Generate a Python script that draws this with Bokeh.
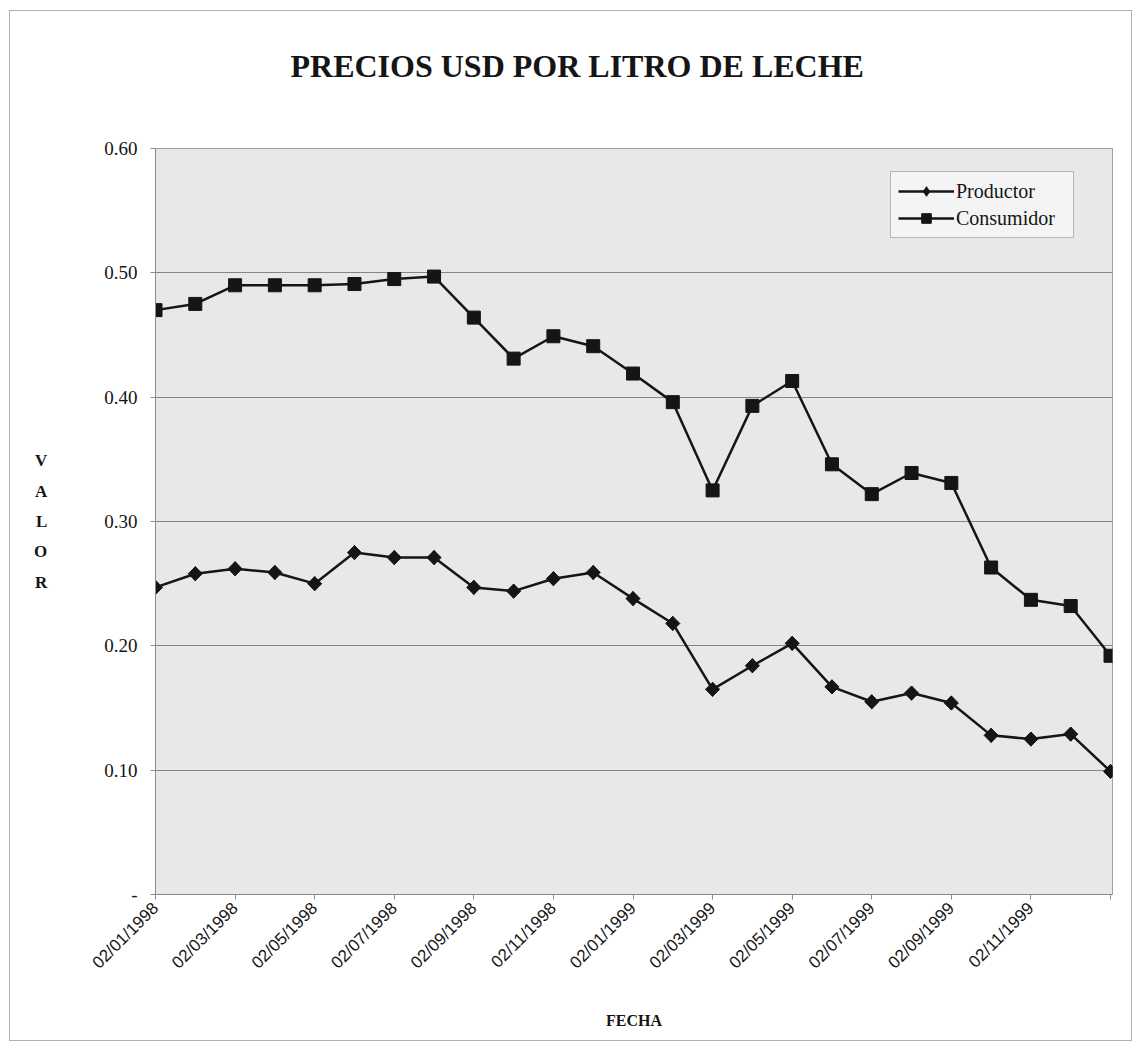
import math
from bokeh.plotting import figure
from bokeh.models import Range1d, FixedTicker, Legend, LegendItem, ColumnDataSource, Title
from bokeh.embed import file_html
from bokeh.resources import INLINE

# ---- data ----
fechas = ["02/01/1998", "02/02/1998", "02/03/1998", "02/04/1998", "02/05/1998",
          "02/06/1998", "02/07/1998", "02/08/1998", "02/09/1998", "02/10/1998",
          "02/11/1998", "02/12/1998", "02/01/1999", "02/02/1999", "02/03/1999",
          "02/04/1999", "02/05/1999", "02/06/1999", "02/07/1999", "02/08/1999",
          "02/09/1999", "02/10/1999", "02/11/1999", "02/12/1999", "02/01/2000"]
productor = [0.247, 0.258, 0.262, 0.259, 0.250, 0.275, 0.271, 0.271, 0.247, 0.244,
             0.254, 0.259, 0.238, 0.218, 0.165, 0.184, 0.202, 0.167, 0.155, 0.162,
             0.154, 0.128, 0.125, 0.129, 0.099]
consumidor = [0.470, 0.475, 0.490, 0.490, 0.490, 0.491, 0.495, 0.497, 0.464, 0.431,
              0.449, 0.441, 0.419, 0.396, 0.325, 0.393, 0.413, 0.346, 0.322, 0.339,
              0.331, 0.263, 0.237, 0.232, 0.192]
tick_labels = ["02/01/1998", "02/03/1998", "02/05/1998", "02/07/1998", "02/09/1998",
               "02/11/1998", "02/01/1999", "02/03/1999", "02/05/1999", "02/07/1999",
               "02/09/1999", "02/11/1999", ""]
y_ticks = [0.0, 0.1, 0.2, 0.3, 0.4, 0.5, 0.6]
y_tick_labels = ["-", "0.10", "0.20", "0.30", "0.40", "0.50", "0.60"]
titulo = "PRECIOS USD POR LITRO DE LECHE"

idx = list(range(len(fechas)))
src = ColumnDataSource(dict(x=idx, fecha=fechas, prod=productor, cons=consumidor))

SERIF = "Liberation Serif"
SANS = "Liberation Sans"
INK = "#151515"

title = Title(text=titulo + "\n ", text_font=SERIF, text_font_style="bold",
              text_font_size="32px", text_color=INK, align="left", offset=135,
              standoff=58, vertical_align="bottom")

p = figure(output_backend="svg", toolbar_location=None, title=title,
           frame_width=957, frame_height=746,
           min_border_left=145, min_border_right=19,
           min_border_top=137, min_border_bottom=146,
           x_range=Range1d(0, 24.05), y_range=Range1d(0, 0.6))
p.border_fill_color = "white"
p.styles = {"border": "1px solid #b0b0b0", "margin-left": "9px", "margin-top": "10px"}

p.background_fill_color = "#e8e8e8"
p.outline_line_color = "#a0a0a0"
p.outline_line_width = 1

# grid
p.xgrid.visible = False
p.ygrid.grid_line_color = "#858585"
p.ygrid.grid_line_width = 1

# x axis
xs_ticks = [i for i in idx if i % 2 == 0]
p.xaxis.ticker = FixedTicker(ticks=xs_ticks)
p.xaxis.major_label_overrides = {t: lab for t, lab in zip(xs_ticks, tick_labels)}
p.xaxis.major_label_orientation = math.pi / 4
p.xaxis.major_label_text_font = SANS
p.xaxis.major_label_text_font_size = "17px"
p.xaxis.major_label_text_color = INK
p.xaxis.minor_tick_line_color = None
p.xaxis.major_tick_out = 5
p.xaxis.major_tick_in = 0
p.xaxis.axis_line_color = "#8a8a8a"
p.xaxis.major_tick_line_color = "#8a8a8a"
p.xaxis.major_label_standoff = 6
p.xaxis.axis_label = "FECHA"
p.xaxis.axis_label_text_font = SERIF
p.xaxis.axis_label_text_font_style = "bold"
p.xaxis.axis_label_text_font_size = "16px"
p.xaxis.axis_label_text_color = INK
p.xaxis.axis_label_standoff = 30

# y axis
p.yaxis.ticker = FixedTicker(ticks=y_ticks)
p.yaxis.major_label_overrides = {t: lab for t, lab in zip(y_ticks, y_tick_labels)}
p.yaxis.major_label_text_font = SERIF
p.yaxis.major_label_text_font_size = "19px"
p.yaxis.major_label_text_color = INK
p.yaxis.minor_tick_line_color = None
p.yaxis.major_tick_out = 5
p.yaxis.major_tick_in = 0
p.yaxis.axis_line_color = "#8a8a8a"
p.yaxis.major_tick_line_color = "#8a8a8a"
p.yaxis.major_label_standoff = 13
p.yaxis.axis_label = "V\nA\nL\nO\nR"
p.yaxis.axis_label_orientation = "horizontal"
p.yaxis.axis_label_text_font = SERIF
p.yaxis.axis_label_text_font_style = "bold"
p.yaxis.axis_label_text_font_size = "17px"
p.yaxis.axis_label_text_color = INK
p.yaxis.axis_label_text_line_height = 1.6
p.yaxis.axis_label_standoff = 54

# series
lp = p.line("x", "prod", source=src, line_color=INK, line_width=2.5)
# narrow diamond (used as legend swatch), hidden under the rotated square in the plot
mp_key = p.scatter("x", "prod", source=src, marker="diamond", size=14,
                   fill_color=INK, line_color=INK)
mp = p.scatter("x", "prod", source=src, marker="square", angle=math.pi / 4, size=10,
               fill_color=INK, line_color=INK)
lc = p.line("x", "cons", source=src, line_color=INK, line_width=2.5)
mc = p.scatter("x", "cons", source=src, marker="square", size=13,
               fill_color=INK, line_color=INK)

legend = Legend(items=[LegendItem(label="Productor", renderers=[lp, mp_key]),
                       LegendItem(label="Consumidor", renderers=[lc, mc])],
                location=(735, 656))
legend.label_text_font = SERIF
legend.label_text_font_size = "20px"
legend.label_text_color = INK
legend.glyph_width = 56
legend.glyph_height = 24
legend.label_standoff = 2
legend.spacing = 3
legend.padding = 7
legend.margin = 0
legend.label_width = 110
legend.background_fill_color = "#f4f4f4"
legend.background_fill_alpha = 1.0
legend.border_line_color = "#777777"
legend.border_line_width = 1
p.add_layout(legend, "center")

open("out.html", "w").write(file_html(p, INLINE))
